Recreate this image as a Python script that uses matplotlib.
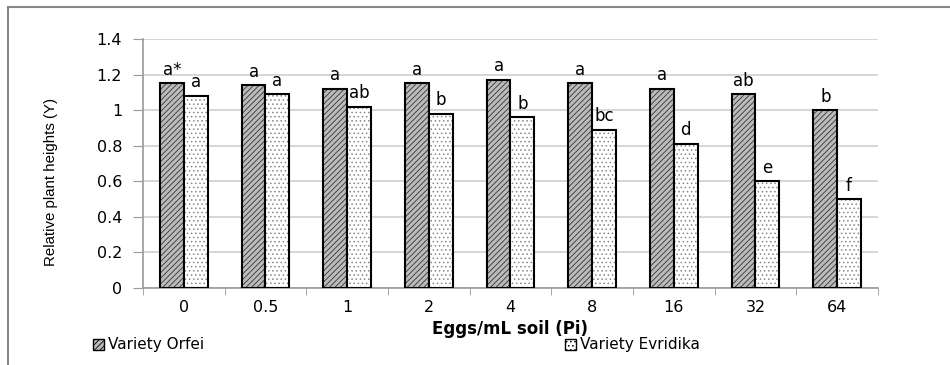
import matplotlib
matplotlib.use("Agg")
import matplotlib.pyplot as plt
import numpy as np
from matplotlib.lines import Line2D
from matplotlib.patches import Patch

categories = ["0", "0.5", "1", "2", "4", "8", "16", "32", "64"]
orfei = [1.15, 1.14, 1.12, 1.15, 1.17, 1.15, 1.12, 1.09, 1.00]
evridika = [1.08, 1.09, 1.02, 0.98, 0.96, 0.89, 0.81, 0.60, 0.50]
orfei_letters = ["a*", "a", "a", "a", "a", "a", "a", "ab", "b"]
evridika_letters = ["a", "a", "ab", "b", "b", "bc", "d", "e", "f"]
yticks = [0, 0.2, 0.4, 0.6, 0.8, 1, 1.2, 1.4]
ytick_labels = ["0", "0.2", "0.4", "0.6", "0.8", "1", "1.2", "1.4"]
series_names = ["Variety Orfei", "Variety Evridika"]

plt.rcParams['font.family'] = ['DejaVu Sans']
plt.rcParams['hatch.linewidth'] = 0.6

W, H = 950, 365
fig = plt.figure(figsize=(W/100, H/100), dpi=100)
ax = fig.add_axes([143/W, 1-288/H, (878-143)/W, (288-39)/H])

x = np.arange(len(categories))
bw = 0.29
b1 = ax.bar(x - bw/2, orfei, bw, facecolor='#bbbbbb', edgecolor='black', linewidth=1.5,
            hatch='//////', zorder=3)
b2 = ax.bar(x + bw/2, evridika, bw, facecolor='white', edgecolor='black', linewidth=1.5,
            hatch='....', zorder=3)
for r in b2:
    r._hatch_color = matplotlib.colors.to_rgba('#888888')
for r in b1:
    r._hatch_color = matplotlib.colors.to_rgba('#333333')

for xi, v, t in zip(x, orfei, orfei_letters):
    ax.text(xi - bw/2, v + 0.025, t, ha='center', va='bottom', fontsize=12)
for xi, v, t in zip(x, evridika, evridika_letters):
    ax.text(xi + bw/2, v + 0.025, t, ha='center', va='bottom', fontsize=12)

ax.set_xlim(-0.5, len(categories) - 0.5)
ax.set_ylim(0, 1.4)
ax.set_yticks(yticks)
ax.set_yticklabels(ytick_labels, fontsize=11.5)
ax.set_xticks(x)
ax.set_xticklabels(categories, fontsize=11.5)
ax.set_xticks(np.arange(-0.5, len(categories)), minor=True)
ax.tick_params(axis='x', which='major', length=0, pad=9)
ax.tick_params(axis='x', which='minor', length=5, color='#999999', direction='out')
ax.tick_params(axis='y', length=7, color='#999999', direction='out', pad=8)
ax.yaxis.grid(True, color='#d0d0d0', linewidth=1.2, zorder=0)
ax.set_axisbelow(True)
for s in ['top', 'right']:
    ax.spines[s].set_visible(False)
for s in ['left', 'bottom']:
    ax.spines[s].set_color('#999999')
    ax.spines[s].set_linewidth(1.2)

ax.set_xlabel("Eggs/mL soil (Pi)", fontsize=12, fontweight='bold', labelpad=3)
ax.set_ylabel("Relative plant heights (Y)", fontsize=10.8,
              family=['Liberation Sans Narrow', 'Liberation Sans', 'DejaVu Sans'])
ax.yaxis.set_label_coords((58-143)/735, (288-182)/249)

# legend
h1 = Patch(facecolor='#bbbbbb', edgecolor='black', hatch='//////', linewidth=1)
h2 = Patch(facecolor='white', edgecolor='black', hatch='....', linewidth=1)
leg = fig.legend([h1, h2], series_names,
                 loc='center left', bbox_to_anchor=(93/W, 1-345/H), ncol=2, frameon=False,
                 handlelength=0.75, handleheight=0.75, handletextpad=0.25, columnspacing=23.6,
                 fontsize=11, borderaxespad=0, borderpad=0)

# outer frame
fig.add_artist(Line2D([8/W, 1], [1-7/H, 1-7/H], color='#888888', linewidth=1.5))
fig.add_artist(Line2D([8/W, 8/W], [0, 1-7/H], color='#888888', linewidth=1.5))

fig.savefig("out.png", dpi=100)
